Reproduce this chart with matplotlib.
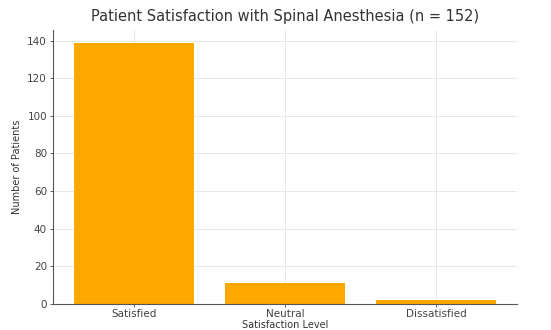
import matplotlib
matplotlib.use("Agg")
import matplotlib.pyplot as plt

categories = ["Satisfied", "Neutral", "Dissatisfied"]
patients = [139, 11, 2]
total = sum(patients)

fig = plt.figure(figsize=(5.51, 3.3), dpi=100)
ax = fig.add_axes([0.0953, 0.08, 0.8437, 0.83])

ax.set_axisbelow(True)
ax.grid(True, color="#e8e8e8", linewidth=0.7)
ax.bar(categories, patients, width=0.8, color="#FFA800")

ax.set_title(f"Patient Satisfaction with Spinal Anesthesia (n = {total})",
             fontsize=10.5, color="#333333", pad=6)
ax.set_xlabel("Satisfaction Level", fontsize=7, color="#333333", labelpad=0.5)
ax.set_ylabel("Number of Patients", fontsize=7, color="#333333", labelpad=4)
ax.tick_params(labelsize=7.5, colors="#444444", length=2.5, width=0.6, pad=1.5)
for s in ("top", "right"):
    ax.spines[s].set_visible(False)
for s in ("left", "bottom"):
    ax.spines[s].set_color("#555555")
    ax.spines[s].set_linewidth(0.8)

fig.savefig("out.png", dpi=100)
